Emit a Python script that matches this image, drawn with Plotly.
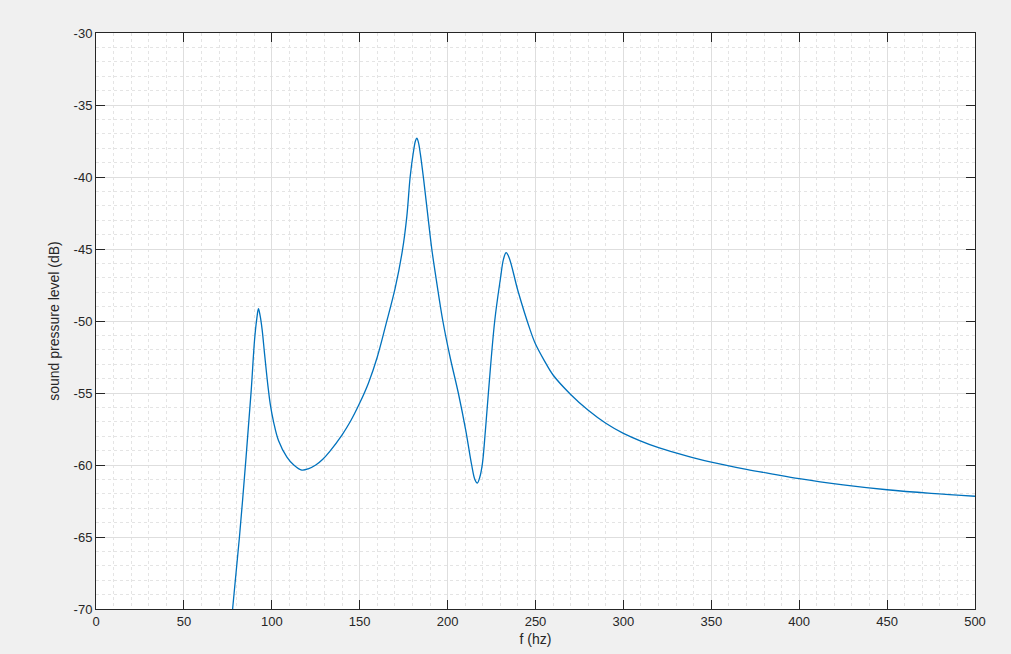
import plotly.graph_objects as go

freq_hz = [77.7, 81.6, 85.4, 88.3, 90.2, 91.5, 92.4, 93.3, 94.5, 95.9, 97.8, 99.1,
           101.0, 103.8, 108.6, 112.5, 117.1, 121.0, 125.0, 129.0, 133.0, 140.0, 144.6,
           150.0, 155.0, 160.0, 165.0, 170.2, 174.3, 176.8, 178.7, 180.5, 181.7,
           182.5, 183.4, 184.5, 186.3, 188.5, 191.0, 193.9, 197.3, 201.4, 206.1,
           210.3, 213.7, 215.5, 216.9, 218.3, 219.8, 221.5, 223.2, 226.8, 230.0, 231.8, 233.3,
           235.0, 240.0, 246.9, 250.0, 255.0, 260.0, 270.0, 280.0, 290.0, 300.0, 320.0,
           340.0, 350.0, 370.0, 385.0, 400.0, 425.0, 450.0, 475.0, 500.0]
spl_db = [-70.0, -65.0, -59.4, -54.8, -51.3, -49.8, -49.15, -49.6, -50.6, -52.3, -54.5, -55.75,
          -57.0, -58.3, -59.45, -60.0, -60.35, -60.25, -60.0, -59.6, -59.05, -57.9, -57.0,
          -55.7, -54.3, -52.5, -50.2, -47.7, -45.1, -42.75, -40.0, -38.3, -37.5,
          -37.3, -37.6, -38.4, -40.1, -42.4, -45.0, -47.4, -50.0, -52.5, -55.0,
          -57.57, -60.0, -61.0, -61.25, -60.85, -59.9, -57.6, -55.0, -50.0, -47.1, -45.7, -45.25,
          -45.6, -47.9, -50.6, -51.6, -52.75, -53.75, -55.1, -56.2, -57.1, -57.8, -58.8,
          -59.5, -59.8, -60.3, -60.63, -60.95, -61.38, -61.72, -61.97, -62.17]

x_ticks = [0, 50, 100, 150, 200, 250, 300, 350, 400, 450, 500]
y_ticks = [-70, -65, -60, -55, -50, -45, -40, -35, -30]

AX = "#262626"
FONT = "Arial, Liberation Sans, Helvetica, sans-serif"

fig = go.Figure()
fig.add_trace(go.Scatter(
    x=freq_hz, y=spl_db, mode="lines",
    line=dict(color="#0072BD", width=1.3, shape="spline", smoothing=1.0),
    showlegend=False, hoverinfo="x+y",
))

axis_common = dict(
    showline=True, linecolor=AX, linewidth=1, mirror="ticks",
    ticks="inside", ticklen=9, tickwidth=1, tickcolor=AX,
    showgrid=True, gridcolor="#dedede", gridwidth=1,
    zeroline=False,
    tickfont=dict(family=FONT, size=13, color=AX),
)

fig.update_xaxes(
    range=[0, 500], tickvals=x_ticks, ticktext=[str(v) for v in x_ticks],
    title=dict(text="f (hz)", font=dict(family=FONT, size=14, color=AX), standoff=6),
    minor=dict(dtick=10, showgrid=True, gridcolor="#e4e4e4", griddash="dot", gridwidth=1, ticks=""),
    **axis_common,
)
fig.update_yaxes(
    range=[-70, -30], tickvals=y_ticks, ticktext=[str(v) for v in y_ticks],
    title=dict(text="sound pressure level (dB)", font=dict(family=FONT, size=14, color=AX), standoff=10),
    minor=dict(dtick=1, showgrid=True, gridcolor="#e4e4e4", griddash="dot", gridwidth=1, ticks=""),
    **axis_common,
)

fig.update_layout(
    width=1011, height=654,
    paper_bgcolor="#f0f0f0", plot_bgcolor="#ffffff",
    margin=dict(l=96, r=36, t=33, b=45, autoexpand=False),
    font=dict(family=FONT, color=AX),
)

fig.write_html(
    "out.html",
    config={"displayModeBar": False},
    post_script="document.body.style.margin='0px';document.body.style.background='#f0f0f0';document.body.style.overflow='hidden';",
)
